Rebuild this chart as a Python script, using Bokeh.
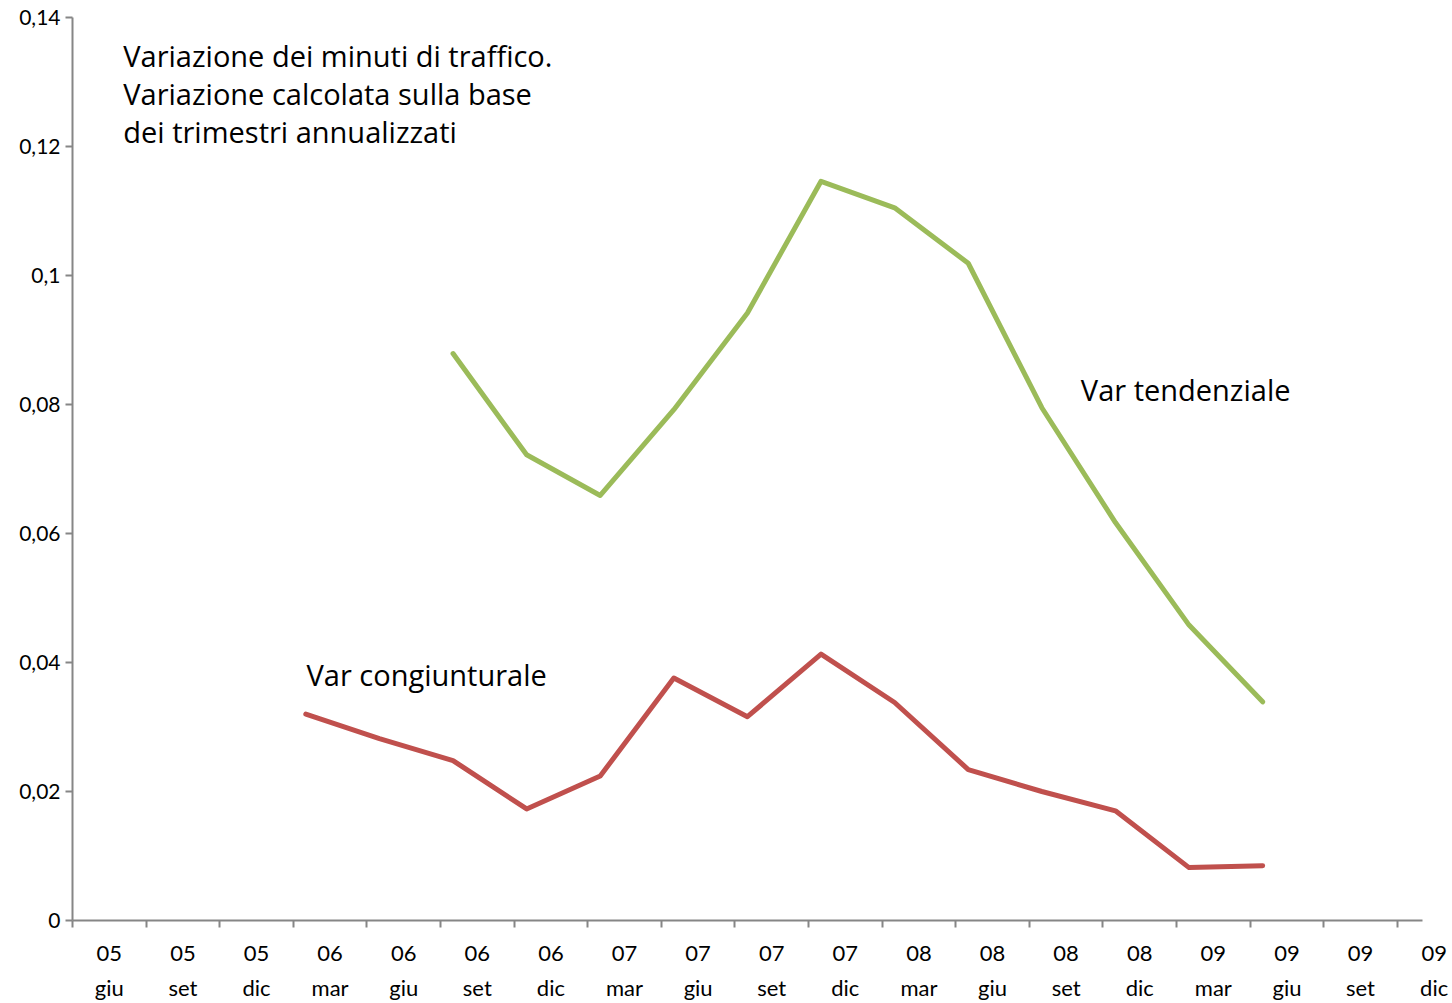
from bokeh.plotting import figure
from bokeh.models import (FixedTicker, Range1d, LinearAxis, CustomJSTickFormatter, Label)
from bokeh.embed import file_html
from bokeh.resources import INLINE

# ---- data ----
years = ["05", "05", "05", "06", "06", "06", "06", "07", "07", "07", "07",
         "08", "08", "08", "08", "09", "09", "09", "09"]
months = ["giu", "set", "dic", "mar", "giu", "set", "dic", "mar", "giu", "set", "dic",
          "mar", "giu", "set", "dic", "mar", "giu", "set", "dic"]

cong_start = 3   # first value at "06 mar"
var_congiunturale = [0.0320, 0.0282, 0.0248, 0.0173, 0.0224, 0.0376, 0.0316,
                     0.0413, 0.0338, 0.0234, 0.0200, 0.0170, 0.0082, 0.0085]
tend_start = 5   # first value at "06 set"
var_tendenziale = [0.0879, 0.0722, 0.0659, 0.0792, 0.0942, 0.1146, 0.1105,
                   0.1019, 0.0795, 0.0617, 0.0458, 0.0339]

y_ticks = [0, 0.02, 0.04, 0.06, 0.08, 0.10, 0.12, 0.14]

title_lines = ["Variazione dei minuti di traffico.",
               "Variazione calcolata sulla base",
               "dei trimestri annualizzati"]

# ---- styling ----
GREEN = "#9BBB59"
RED = "#C0504D"
AXIS = "#868686"
point_shift = 0.17       # Excel-like placement of points within the category slot
n = len(months)
axis_end = 18.34

p = figure(width=1452, height=1003, output_backend="svg", toolbar_location=None,
           x_range=Range1d(0, 18.6), y_range=Range1d(0, 0.14),
           min_border_left=72, min_border_right=11, min_border_top=17,
           min_border_bottom=81, x_axis_location=None)
p.outline_line_color = None
p.xgrid.visible = False
p.ygrid.visible = False
p.background_fill_color = "white"

# lines
xc = [cong_start + i + point_shift for i in range(len(var_congiunturale))]
xt = [tend_start + i + point_shift for i in range(len(var_tendenziale))]
p.line(xt, var_tendenziale, line_color=GREEN, line_width=5, line_join="round", line_cap="round")
p.line(xc, var_congiunturale, line_color=RED, line_width=5, line_join="round", line_cap="round")

# y axis
ya = p.yaxis[0]
ya.ticker = FixedTicker(ticks=y_ticks, minor_ticks=[])
ya.formatter = CustomJSTickFormatter(code="""
let s = tick.toFixed(2).replace(/0+$/, '').replace(/\\.$/, '');
return s.replace('.', ',');
""")
ya.axis_line_color = AXIS
ya.axis_line_width = 2
ya.major_tick_line_color = AXIS
ya.major_tick_line_width = 2
ya.major_tick_out = 7
ya.major_tick_in = 0
ya.minor_tick_line_color = None
ya.major_label_standoff = 5
ya.major_label_text_font = "Lato"
ya.major_label_text_font_size = "21px"
ya.major_label_text_color = "black"

# x axis line with tick marks at slot boundaries
xa = LinearAxis(bounds=(0, axis_end),
                ticker=FixedTicker(ticks=[], minor_ticks=list(range(n))))
xa.axis_line_color = AXIS
xa.axis_line_width = 2
xa.major_tick_line_color = None
xa.major_tick_out = 0
xa.major_tick_in = 0
xa.minor_tick_line_color = AXIS
xa.minor_tick_line_width = 2
xa.minor_tick_out = 7
xa.minor_tick_in = 0
xa.major_label_standoff = 0
p.add_layout(xa, "below")

# category labels (year / month) centred in each slot
centers = [i + 0.5 for i in range(n)]
xl = LinearAxis(ticker=FixedTicker(ticks=centers, minor_ticks=[]))
xl.major_label_overrides = {c: f"{y}\n{m}" for c, y, m in zip(centers, years, months)}
xl.axis_line_color = None
xl.major_tick_line_color = None
xl.minor_tick_line_color = None
xl.major_tick_out = 0
xl.major_tick_in = 0
xl.major_label_standoff = 11
xl.major_label_text_font = "Lato"
xl.major_label_text_font_size = "22px"
xl.major_label_text_line_height = 1.3
xl.major_label_text_color = "black"
p.add_layout(xl, "below")

# annotations
for k, line in enumerate(title_lines):
    p.add_layout(Label(x=0.69, y=0.1341 - k * 0.00588, text=line,
                       text_font="Open Sans", text_font_size="29px",
                       text_baseline="middle", text_align="left", text_color="black"))

p.add_layout(Label(x=3.18, y=0.0381, text="Var congiunturale",
                   text_font="Open Sans", text_font_size="29px",
                   text_baseline="middle", text_color="black"))
p.add_layout(Label(x=13.70, y=0.0823, text="Var tendenziale",
                   text_font="Open Sans", text_font_size="29px",
                   text_baseline="middle", text_color="black"))

open("out.html", "w").write(file_html(p, INLINE))
